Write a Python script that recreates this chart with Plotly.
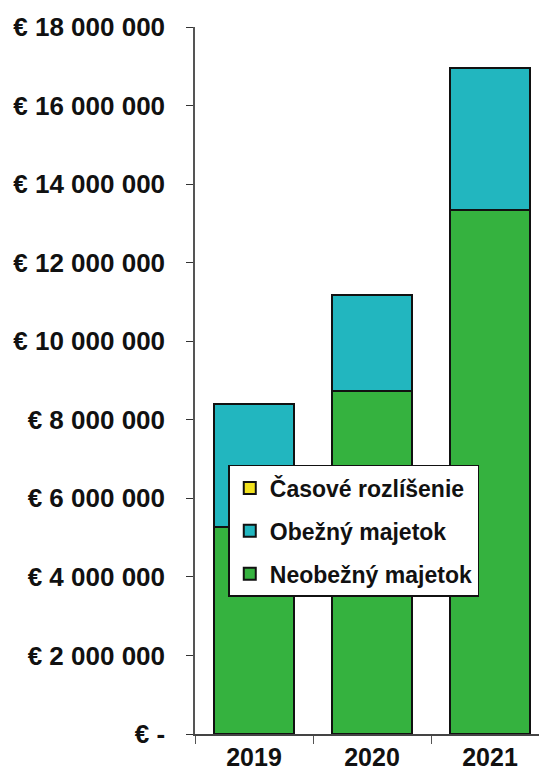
import plotly.graph_objects as go

years = ["2019", "2020", "2021"]
neobezny = [5270000, 8730000, 13340000]
obezny = [3130000, 2450000, 3620000]
casove = [0, 0, 0]

tick_vals = [0, 2000000, 4000000, 6000000, 8000000, 10000000, 12000000, 14000000, 16000000, 18000000]
tick_text = ["€ -", "€ 2 000 000", "€ 4 000 000", "€ 6 000 000", "€ 8 000 000",
             "€ 10 000 000", "€ 12 000 000", "€ 14 000 000", "€ 16 000 000", "€ 18 000 000"]

FONT = "Liberation Sans, Arial, sans-serif"

fig = go.Figure()
for name, vals, color, grp, rank in [
    ("Neobežný majetok", neobezny, "#35b23f", "a", 3),
    ("Obežný majetok", obezny, "#22b6bf", "b", 2),
    ("Časové rozlíšenie", casove, "#f2e21e", "c", 1),
]:
    fig.add_trace(go.Bar(
        x=years, y=vals, name=name, legendgroup=grp, legendrank=rank,
        marker=dict(color=color, line=dict(color="#111111", width=2)),
        width=0.67,
    ))

fig.update_layout(
    width=547, height=778,
    barmode="stack",
    plot_bgcolor="white", paper_bgcolor="white",
    margin=dict(l=187, r=6, t=19, b=52),
    font=dict(family=FONT, color="#111111"),
    showlegend=True,
    legend=dict(
        x=0.094, y=0.3805, xanchor="left", yanchor="top",
        bgcolor="white", bordercolor="#111111", borderwidth=1.5,
        font=dict(size=23, family=FONT, color="#111111", weight="bold"),
        traceorder="grouped", tracegroupgap=10,
        itemwidth=30,
    ),
    xaxis=dict(
        range=[-0.5, 2.5], automargin=False,
        showline=True, linecolor="#444444", linewidth=1.5,
        ticks="outside", ticklen=8, tickcolor="#555555", tickson="boundaries",
        tickfont=dict(size=25, family=FONT, weight="bold", color="#111111"),
        showgrid=False,
    ),
    yaxis=dict(
        range=[0, 18000000], automargin=False,
        tickvals=tick_vals, ticktext=tick_text,
        showline=True, linecolor="#555555", linewidth=1.5,
        ticks="outside", ticklen=7, tickcolor="#333333",
        tickfont=dict(size=26, family=FONT, weight="bold", color="#111111"),
        ticklabelstandoff=16,
        showgrid=False, zeroline=False,
    ),
)

fig.write_html("out.html")
